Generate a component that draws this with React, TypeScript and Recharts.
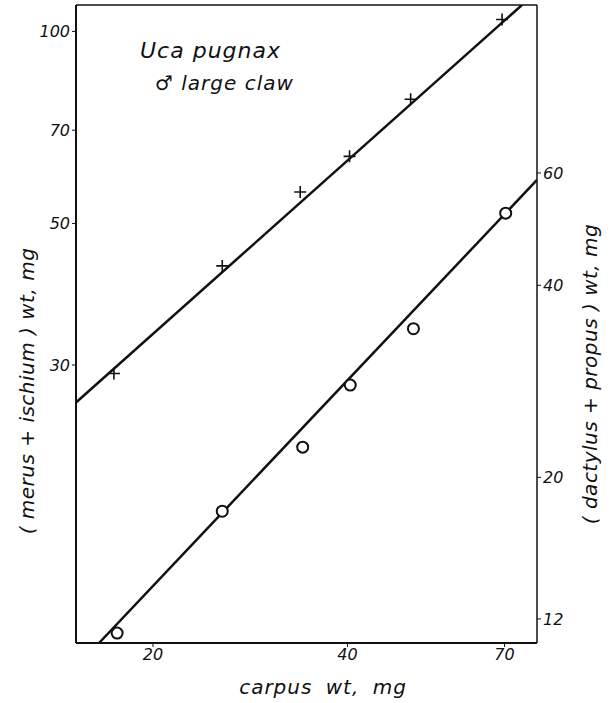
import React from 'react';
import { ScatterChart, Scatter, XAxis, YAxis, ReferenceLine } from 'recharts';

// carpus weight (mg) for each specimen group
const carpusCross = [17.4, 25.6, 33.8, 40.3, 50.1, 69.4];
const merusIschium = [29.1, 42.9, 56.0, 63.7, 78.3, 104.4];

const carpusCircle = [17.6, 25.6, 34.1, 40.4, 50.6, 70.3];
const dactylusPropus = [11.4, 17.7, 22.3, 27.9, 34.2, 51.9];

// fitted lines, endpoints
const crossFitX = [15.2, 74.5];
const crossFitY = [26.2, 110];
const circleFitX = [16.5, 78.6];
const circleFitY = [11, 58.5];

const xTicks = [20, 40, 70];
const leftTicks = [30, 50, 70, 100];
const rightTicks = [12, 20, 40, 60];

const zip = (xs: number[], ys: number[]) => xs.map((x, i) => ({ x, y: ys[i] }));

const crossData = zip(carpusCross, merusIschium);
const circleData = zip(carpusCircle, dactylusPropus);
const crossFit = zip(crossFitX, crossFitY);
const circleFit = zip(circleFitX, circleFitY);

const font = '"DejaVu Sans", sans-serif';
const tickStyle = { fill: '#111', fontSize: 16, fontStyle: 'italic', fontFamily: font };

const Cross = (props: any) => {
  const { cx, cy } = props;
  return (
    <path
      d={`M${cx - 6},${cy}H${cx + 6}M${cx},${cy - 6}V${cy + 6}`}
      stroke="#111"
      strokeWidth={1.6}
      fill="none"
    />
  );
};

const OpenCircle = (props: any) => {
  const { cx, cy } = props;
  return <circle cx={cx} cy={cy} r={5.5} fill="#fff" stroke="#111" strokeWidth={2} />;
};

const Nothing = () => <g />;

export default function App() {
  return (
    <div style={{ position: 'absolute', left: 0, top: 0, width: 613, height: 703, background: '#fff' }}>
      <ScatterChart width={613} height={703} margin={{ top: 5, right: 0, bottom: 0, left: 0 }}>
        <XAxis
          type="number"
          dataKey="x"
          scale="log"
          domain={[15.2, 78.6]}
          allowDataOverflow
          ticks={xTicks}
          height={60}
          tickSize={4}
          tick={tickStyle}
          stroke="#111"
          axisLine={{ strokeWidth: 2 }}
        />
        <YAxis
          yAxisId="left"
          type="number"
          dataKey="y"
          scale="log"
          domain={[11, 110]}
          allowDataOverflow
          ticks={leftTicks}
          width={76}
          tickSize={4}
          tick={tickStyle}
          stroke="#111"
          axisLine={{ strokeWidth: 2 }}
        />
        <YAxis
          yAxisId="right"
          orientation="right"
          type="number"
          dataKey="y"
          scale="log"
          domain={[11, 110]}
          allowDataOverflow
          ticks={rightTicks}
          width={76}
          tickSize={4}
          tick={tickStyle}
          stroke="#111"
          axisLine={{ strokeWidth: 1.5 }}
        />
        <ReferenceLine yAxisId="left" y={110} stroke="#111" strokeWidth={1.5} />
        <Scatter
          yAxisId="left"
          data={crossFit}
          line={{ stroke: '#111', strokeWidth: 2.5 }}
          shape={Nothing}
          isAnimationActive={false}
        />
        <Scatter
          yAxisId="right"
          data={circleFit}
          line={{ stroke: '#111', strokeWidth: 2.5 }}
          shape={Nothing}
          isAnimationActive={false}
        />
        <Scatter yAxisId="left" data={crossData} shape={Cross} isAnimationActive={false} />
        <Scatter yAxisId="right" data={circleData} shape={OpenCircle} isAnimationActive={false} />
      </ScatterChart>
      <svg
        width={613}
        height={703}
        style={{ position: 'absolute', left: 0, top: 0, pointerEvents: 'none' }}
        fontFamily={font}
        fontStyle="italic"
        fill="#111"
      >
        <text x={140} y={58} fontSize={22} letterSpacing={1}>Uca pugnax</text>
        <text x={155} y={90} fontSize={20} letterSpacing={1}>♂ large claw</text>
        <text
          x={27}
          y={391}
          fontSize={20}
          textAnchor="middle"
          dominantBaseline="central"
          letterSpacing={0.5}
          transform="rotate(-90 27 391)"
        >
          ( merus + ischium ) wt, mg
        </text>
        <text
          x={590}
          y={374}
          fontSize={20}
          textAnchor="middle"
          dominantBaseline="central"
          letterSpacing={0.5}
          transform="rotate(-90 590 374)"
        >
          ( dactylus + propus ) wt, mg
        </text>
        <text
          x={323}
          y={687}
          fontSize={20}
          textAnchor="middle"
          dominantBaseline="central"
          letterSpacing={1}
          wordSpacing={6}
        >
          carpus wt, mg
        </text>
      </svg>
    </div>
  );
}
